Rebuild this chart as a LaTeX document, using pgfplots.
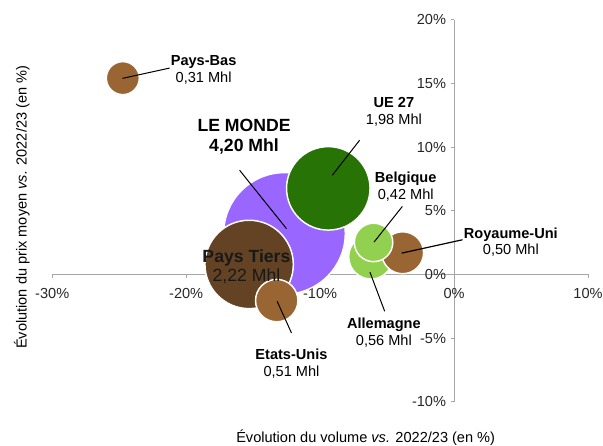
\documentclass[border=0pt]{standalone}
\usepackage{fontspec}
\setmainfont{Liberation Sans}
\usepackage{pgfplots}
\usepackage{pgfplotstable}
\pgfplotsset{compat=1.18}
\definecolor{cmonde}{RGB}{153,102,255}
\definecolor{cue}{RGB}{40,115,5}
\definecolor{cvert}{RGB}{146,208,80}
\definecolor{cbrun}{RGB}{153,102,51}
\definecolor{cfonce}{RGB}{99,67,35}
\definecolor{caxe}{RGB}{166,166,166}
\newcommand{\fn}{\fontsize{10.9}{12.5}\selectfont}
\newcommand{\fg}{\fontsize{13.2}{14.5}\selectfont}

% x = evolution volume (%), y = evolution prix (%), v = volume (Mhl)
\pgfplotstableread{
x      y      v     cls
-12.66  3.23  4.20  monde
-9.39   6.77  1.98  ue
-15.30  0.79  2.22  tiers
-13.24 -2.05  0.51  brun
-24.73 15.43  0.31  brun
-6.21   1.39  0.56  vert
-3.84   1.71  0.50  brun
-6.01   2.52  0.42  vert
}\bulles

\begin{document}
\begin{tikzpicture}
\begin{axis}[
    set layers,
    scale only axis,
    width=401pt, height=285.75pt,
    xmin=-30, xmax=10, ymin=-10, ymax=20,
    axis lines=middle,
    axis line style={-, draw=caxe, line width=0.75pt},
    xtick={-30,-20,-10,0,10},
    ytick={-10,-5,...,20},
    xticklabels={-30\%,-20\%,-10\%,0\%,10\%},
    yticklabels={-10\%,-5\%,0\%,5\%,10\%,15\%,20\%},
    hide obscured x ticks=false, hide obscured y ticks=false,
    tick align=outside, major tick length=2.5pt,
    every tick/.style={draw=caxe, line width=0.75pt},
    tick label style={font=\fn, text=black!85},
    xticklabel style={yshift=-4pt},
    clip=false,
]
\addplot[
    scatter, only marks, mark=*,
    point meta=explicit symbolic,
    scatter/classes={
        monde={fill=cmonde, draw=white, line width=1.1pt},
        ue={fill=cue, draw=white, line width=1.1pt},
        tiers={fill=cfonce, draw=white, line width=1.1pt},
        brun={fill=cbrun, draw=white, line width=1.1pt},
        vert={fill=cvert, draw=white, line width=1.1pt}},
    visualization depends on={22.2*sqrt(\thisrow{v}) \as \rad},
    scatter/@pre marker code/.append style={/tikz/mark size=\rad pt},
] table[x=x, y=y, meta=cls] {\bulles};

\begin{pgfonlayer}{axis foreground}
% traits de rappel
\draw[black, line width=0.75pt] (axis cs:-24.76,15.41) -- (axis cs:-21.24,16.22);
\draw[black, line width=0.75pt] (axis cs:-7.05,10.55) -- (axis cs:-9.09,7.80);
\draw[black, line width=0.75pt] (axis cs:-16.01,8.19) -- (axis cs:-12.51,3.60);
\draw[black, line width=0.75pt] (axis cs:-3.86,5.35) -- (axis cs:-5.98,2.54);
\draw[black, line width=0.9pt] (axis cs:-3.91,1.68) -- (axis cs:0.63,2.73);
\draw[black, line width=0.75pt] (axis cs:-6.28,0.18) -- (axis cs:-5.18,-2.89);
\draw[black, line width=0.75pt] (axis cs:-13.21,-2.10) -- (axis cs:-12.14,-4.59);

% etiquettes
\node[align=center, font=\fn] at (axis cs:-18.70,16.10) {\textbf{Pays-Bas}\\0,31 Mhl};
\node[align=center, font=\fn] at (axis cs:-4.49,12.78) {\textbf{UE 27}\\1,98 Mhl};
\node[align=center, font=\fg] at (axis cs:-15.68,10.83) {\textbf{LE MONDE}\\\textbf{4,20 Mhl}};
\node[align=center, font=\fn] at (axis cs:-3.61,6.93) {\textbf{Belgique}\\0,42 Mhl};
\node[align=center, font=\fn] at (axis cs:4.24,2.54) {\textbf{Royaume-Uni}\\0,50 Mhl};
\node[align=center, font=\fn] at (axis cs:-5.24,-4.59) {\textbf{Allemagne}\\0,56 Mhl};
\node[align=center, font=\fn] at (axis cs:-12.14,-7.01) {\textbf{Etats-Unis}\\0,51 Mhl};
\node[align=center, font=\fg, text=black!90] at (axis cs:-15.50,0.61) {\textbf{Pays Tiers}\\2,22 Mhl};
\end{pgfonlayer}

% titres des axes
\node[font=\fn] at (axis cs:-6.60,-12.83) {Évolution du volume \textit{vs.} 2022/23 (en \%)};
\node[font=\fn, rotate=90] at (axis cs:-32.28,5.28) {Évolution du prix moyen \textit{vs.} 2022/23 (en \%)};

\coordinate (bl) at (axis cs:-33.90,-13.46);
\coordinate (tr) at (axis cs:11.12,21.57);
\end{axis}
\pgfresetboundingbox
\path[use as bounding box] (bl) rectangle (tr);
\end{tikzpicture}
\end{document}
